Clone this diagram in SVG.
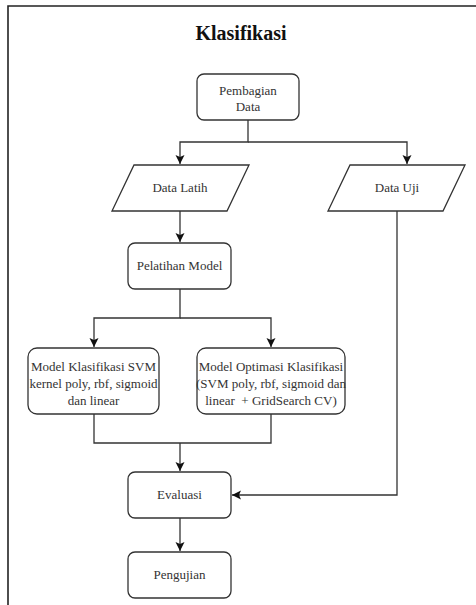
<svg xmlns="http://www.w3.org/2000/svg" width="476" height="605" viewBox="0 0 476 605">
<style>
.box{fill:#fff;stroke:#333;stroke-width:1.3}
.lbl{font-family:"Liberation Serif","Times New Roman",serif;font-size:13px;fill:#333;text-anchor:middle}
.ttl{font-family:"Liberation Serif","Times New Roman",serif;font-size:20px;font-weight:bold;fill:#111;text-anchor:middle}
.edge{fill:none;stroke:#333;stroke-width:1.3}
</style>
<defs>
<marker id="arr" markerUnits="userSpaceOnUse" markerWidth="10" markerHeight="10" refX="9" refY="4.5" orient="auto">
<path d="M0,0 L9,4.5 L0,9 L2,4.5 z" fill="#111"/>
</marker>
</defs>
<rect width="476" height="605" fill="#fff"/>
<path d="M8,605 V6 H476" fill="none" stroke="#222" stroke-width="1.6"/>
<g id="title"><text class="ttl" x="241" y="40">Klasifikasi</text></g>
<g id="edges">
<path class="edge" d="M248,120 V142 H180 V164" marker-end="url(#arr)"/>
<path class="edge" d="M248,142 H407 V164" marker-end="url(#arr)"/>
<path class="edge" d="M180,211 V242" marker-end="url(#arr)"/>
<path class="edge" d="M180,289 V318 H94 V347" marker-end="url(#arr)"/>
<path class="edge" d="M180,318 H271 V347" marker-end="url(#arr)"/>
<path class="edge" d="M94,414 V443 H271 V414"/>
<path class="edge" d="M180,443 V471" marker-end="url(#arr)"/>
<path class="edge" d="M397,211 V495 H232" marker-end="url(#arr)"/>
<path class="edge" d="M180,518 V551" marker-end="url(#arr)"/>
</g>
<g id="pembagian"><rect class="box" x="197" y="74" width="102" height="46" rx="7"/><text class="lbl" x="248" y="95">Pembagian</text><text class="lbl" x="248" y="111">Data</text></g>
<g id="datalatih"><path class="box" d="M134,165 H249 L227,211 H112 Z"/><text class="lbl" x="180" y="192">Data Latih</text></g>
<g id="datauji"><path class="box" d="M350,165 H465 L443,211 H328 Z"/><text class="lbl" x="397" y="192">Data Uji</text></g>
<g id="pelatihan"><rect class="box" x="128" y="243" width="103" height="46" rx="7"/><text class="lbl" x="179.5" y="270">Pelatihan Model</text></g>
<g id="svm"><rect class="box" x="28" y="348" width="131" height="66" rx="9"/><text class="lbl" x="93.5" y="371">Model Klasifikasi SVM</text><text class="lbl" x="93.5" y="388">kernel poly, rbf, sigmoid</text><text class="lbl" x="93.5" y="405">dan linear</text></g>
<g id="optimasi"><rect class="box" x="197" y="348" width="148" height="66" rx="9"/><text class="lbl" x="271" y="371">Model Optimasi Klasifikasi</text><text class="lbl" x="271" y="388">(SVM poly, rbf, sigmoid dan</text><text class="lbl" x="271" y="405" xml:space="preserve">linear  + GridSearch CV)</text></g>
<g id="evaluasi"><rect class="box" x="128" y="472" width="103" height="46" rx="7"/><text class="lbl" x="179.5" y="499">Evaluasi</text></g>
<g id="pengujian"><rect class="box" x="128" y="552" width="103" height="46" rx="7"/><text class="lbl" x="179.5" y="579">Pengujian</text></g>
</svg>
